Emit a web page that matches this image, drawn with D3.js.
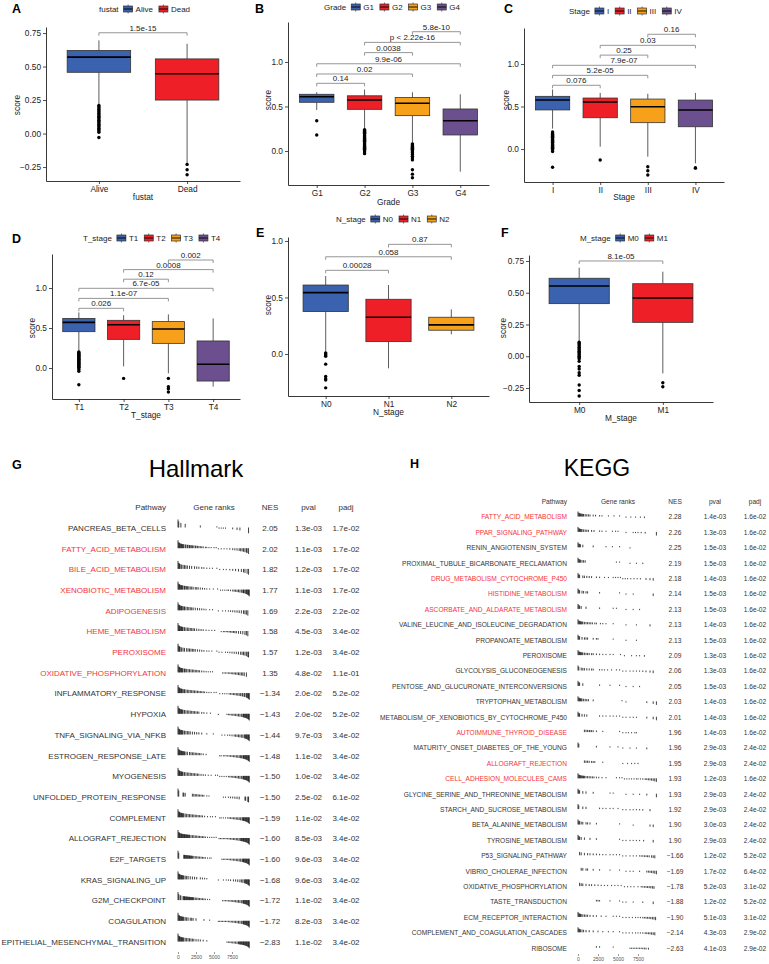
<!DOCTYPE html>
<html><head><meta charset="utf-8">
<script src="https://cdn.jsdelivr.net/npm/d3@7"></script>
<style>
body{margin:0;background:#fff}
svg{display:block}
text{font-family:"Liberation Sans",Arial,Helvetica,sans-serif}
</style>
</head><body>
<svg id="c" width="769" height="964"></svg>
<script>
// ---------------- DATA ----------------
const palette = ["#3A62AE","#EE1F26","#F7A11A","#6B4F8F"];

// boxplot stats: [lowerWhisker, q1, median, q3, upperWhisker]
const fustatCats = ["Alive","Dead"];
const fustatBox = [[0.22,0.457,0.57,0.62,0.695],[-0.22,0.25,0.446,0.557,0.67]];
const fustatOut = [[0.21,0.2,0.19,0.18,0.17,0.16,0.15,0.14,0.13,0.12,0.11,0.1,0.09,0.08,0.07,0.06,0.05,0.04,0.03,0.02,0.01,-0.03],[-0.23,-0.27,-0.307]];
const fustatTests = [[0,1,0.752,"1.5e-15"]];

const gradeCats = ["G1","G2","G3","G4"];
const gradeBox = [[0.46,0.547,0.61,0.637,0.66],[0.255,0.468,0.573,0.62,0.69],[0.086,0.397,0.536,0.6,0.66],[-0.232,0.18,0.34,0.472,0.637]];
const gradeOut = [[0.34,0.18],[0.24,0.23,0.22,0.21,0.2,0.19,0.18,0.17,0.16,0.15,0.14,0.13,0.12,0.11,0.1,0.09,0.08,0.07,0.06,0.05,0.04,0.03,0.02,0.01,0,-0.01,-0.03],[0.08,0.07,0.06,0.05,0.04,0.03,0.02,0.01,0,-0.01,-0.02,-0.04,-0.06,-0.08,-0.1,-0.21,-0.26,-0.3],[]];
const gradeTests = [[0,1,0.76,"0.14"],[0,2,0.865,"0.02"],[0,3,0.98,"9.9e-06"],[1,2,1.105,"0.0038"],[1,3,1.22,"p < 2.22e-16"],[2,3,1.34,"5.8e-10"]];

const stageCats = ["I","II","III","IV"];
const stageBox = [[0.24,0.46,0.576,0.62,0.70],[0.027,0.368,0.553,0.6,0.66],[-0.09,0.31,0.498,0.588,0.65],[-0.168,0.262,0.459,0.576,0.66]];
const stageOut = [[0.2,0.19,0.18,0.17,0.16,0.15,0.14,0.13,0.12,0.11,0.1,0.09,0.08,0.07,0.06,0.05,0.04,0.03,0.02,0.01,0,-0.01,-0.03,-0.215],[-0.13],[-0.208,-0.255,-0.306],[-0.22,-0.225]];
const stageTests = [[0,1,0.75,"0.076"],[0,2,0.867,"5.2e-05"],[0,3,0.985,"7.9e-07"],[1,2,1.105,"0.25"],[1,3,1.22,"0.03"],[2,3,1.35,"0.16"]];

const tCats = ["T1","T2","T3","T4"];
const tBox = [[0.204,0.454,0.57,0.62,0.695],[0.02,0.358,0.54,0.596,0.66],[-0.067,0.308,0.488,0.58,0.67],[-0.233,-0.163,0.046,0.338,0.62]];
const tOut = [[0.2,0.19,0.18,0.17,0.16,0.15,0.14,0.13,0.12,0.11,0.1,0.09,0.08,0.07,0.06,0.05,0.04,0.03,0.02,0.01,0,-0.02,-0.04,-0.21],[-0.13],[-0.13,-0.233,-0.26,-0.3],[]];
const tTests = [[0,1,0.746,"0.026"],[0,2,0.87,"1.1e-07"],[0,3,0.996,"6.7e-05"],[1,2,1.11,"0.12"],[1,3,1.23,"0.0008"],[2,3,1.35,"0.002"]];

const nCats = ["N0","N1","N2"];
const nBox = [[0.02,0.375,0.543,0.61,0.69],[-0.127,0.109,0.325,0.484,0.61],[0.174,0.21,0.257,0.325,0.395]];
const nOut = [[0.01,0,-0.01,-0.02,-0.09,-0.2,-0.22,-0.23,-0.3],[],[]];
const nTests = [[0,1,0.74,"0.00028"],[0,2,0.86,"0.058"],[1,2,0.97,"0.87"]];

const mCats = ["M0","M1"];
const mBox = [[0.115,0.414,0.553,0.614,0.697],[-0.135,0.267,0.459,0.571,0.666]];
const mOut = [[0.11,0.1,0.09,0.08,0.07,0.06,0.05,0.04,0.03,0.02,0.01,0,-0.01,-0.02,-0.04,-0.08,-0.1,-0.13,-0.15,-0.226,-0.27,-0.313],[-0.208,-0.24]];
const mTests = [[0,1,0.75,"8.1e-05"]];

// GSEA tables
const hallmarkPathways = ["PANCREAS_BETA_CELLS","FATTY_ACID_METABOLISM","BILE_ACID_METABOLISM","XENOBIOTIC_METABOLISM","ADIPOGENESIS","HEME_METABOLISM","PEROXISOME","OXIDATIVE_PHOSPHORYLATION","INFLAMMATORY_RESPONSE","HYPOXIA","TNFA_SIGNALING_VIA_NFKB","ESTROGEN_RESPONSE_LATE","MYOGENESIS","UNFOLDED_PROTEIN_RESPONSE","COMPLEMENT","ALLOGRAFT_REJECTION","E2F_TARGETS","KRAS_SIGNALING_UP","G2M_CHECKPOINT","COAGULATION","EPITHELIAL_MESENCHYMAL_TRANSITION"];
const hallmarkNES = [2.05,2.02,1.82,1.77,1.69,1.58,1.57,1.35,-1.34,-1.43,-1.44,-1.48,-1.50,-1.50,-1.59,-1.60,-1.60,-1.68,-1.72,-1.72,-2.83];
const hallmarkPval = [1.3e-3,1.1e-3,1.2e-3,1.1e-3,2.2e-3,4.5e-3,1.2e-3,4.8e-2,2.0e-2,2.0e-2,9.7e-3,1.1e-2,1.0e-2,2.5e-2,1.1e-2,8.5e-3,9.6e-3,9.6e-3,1.1e-2,8.2e-3,1.1e-2];
const hallmarkPadj = [1.7e-2,1.7e-2,1.7e-2,1.7e-2,2.2e-2,3.4e-2,3.4e-2,1.1e-1,5.2e-2,5.2e-2,3.4e-2,3.4e-2,3.4e-2,6.1e-2,3.4e-2,3.4e-2,3.4e-2,3.4e-2,3.4e-2,3.4e-2,3.4e-2];
const hallmarkHighlighted = ["FATTY_ACID_METABOLISM","BILE_ACID_METABOLISM","XENOBIOTIC_METABOLISM","ADIPOGENESIS","HEME_METABOLISM","PEROXISOME","OXIDATIVE_PHOSPHORYLATION"];
// gene-rank positions of pathway genes (in hundreds of ranks)
const hallmarkRanks = [
[0,1,4,10,31,54,57,60,63,66,76,82,86,98],
[0,1,2,3,4,5,6,7,8,10,11,13,14,16,17,19,20,22,24,25,27,29,31,33,35,38,40,43,46,50,53,56,60,64,68,72,76,79,82,85,87,89,91,93,95,96,98],
[0,1,2,3,5,7,9,11,13,16,19,23,26,29,33,36,40,44,48,54,58,63,67,72,76,80,84,88,91,93,96,98],
[0,1,2,3,4,5,6,7,9,10,12,13,15,17,19,21,24,26,28,31,34,37,40,44,49,55,59,62,65,68,70,73,76,78,80,82,84,86,88,90,91,92,94,95,96,97,98,99],
[0,1,2,3,4,5,6,8,9,11,13,15,17,19,21,24,27,30,33,36,39,44,48,56,62,66,70,73,76,79,82,85,88,91,93,95,97],
[0,1,2,3,4,5,6,7,9,11,13,15,17,19,21,23,26,29,32,35,39,43,47,51,60,63,65,67,69,71,73,75,77,79,81,84,87,90,93,95,97],
[0,1,2,3,5,7,9,12,14,16,18,20,22,24,27,30,33,36,40,43,47,54,57,61,66,69,72,75,78,81,84,87,89,91,93,95,97,98],
[0,1,2,3,4,5,6,7,9,10,12,14,16,18,20,22,24,26,28,30,33,36,39,42,45,48,62,64,66,68,70,72,74,76,78,80,82,84,86,88,90,92,95],
[0,1,2,3,4,5,6,8,9,11,13,15,17,19,21,23,25,27,29,31,33,35,37,40,43,46,50,53,58,62,65,68,71,73,75,77,79,81,83,85,87,89,90,92,93,95,96,97,98,99],
[0,1,2,3,4,5,6,7,9,11,13,15,17,19,21,23,25,27,29,33,36,40,45,56,68,70,72,74,76,78,80,82,84,86,88,90,91,92,93,94,95,96,97,98,99],
[0,1,2,3,4,5,6,7,9,11,13,15,17,20,23,26,29,33,40,49,61,65,69,72,75,78,80,82,84,86,88,90,92,93,94,95,96,97,98,99],
[0,1,2,3,4,5,6,7,8,9,11,13,16,18,20,22,24,26,28,30,32,35,39,58,60,63,65,67,69,71,73,75,77,79,81,83,85,87,88,90,91,92,93,94,95,96,97,98,99],
[0,1,2,3,4,5,6,7,9,11,13,15,17,19,21,23,25,27,29,32,35,38,42,46,52,55,58,61,64,67,70,72,74,76,78,80,82,84,86,88,90,91,92,93,94,95,96,97,98,99],
[0,1,7,8,10,20,22,24,26,28,30,32,34,36,40,43,63,66,70,73,76,79,82,85,93,94,97,98],
[0,1,2,3,4,5,6,7,8,10,12,14,16,18,20,22,24,26,28,30,32,34,37,41,45,48,52,58,60,63,66,69,71,73,75,77,79,81,83,85,87,89,90,91,92,93,94,95,96,97,98,99],
[0,1,2,3,4,5,6,7,8,9,10,11,12,13,14,15,16,18,20,22,24,26,28,30,32,34,36,38,41,44,47,50,53,57,59,61,63,65,67,69,71,73,75,77,79,81,83,85,87,88,89,90,91,92,93,94,95,96,97,98,99],
[0,1,8,9,10,11,12,13,14,15,16,17,18,19,20,22,24,26,28,30,32,34,36,38,41,44,46,61,63,65,67,69,71,73,75,77,79,81,83,85,87,89,90,91,92,93,94,95,96,97,98,99],
[0,1,2,3,4,5,6,7,8,10,12,14,17,20,23,26,31,34,37,40,56,63,67,70,73,77,80,83,86,88,90,92,93,94,95,96,97,98,99],
[0,1,3,4,7,8,9,10,11,12,13,14,15,16,17,18,19,20,21,22,24,26,28,30,32,34,36,38,41,44,62,64,66,68,70,72,74,76,78,80,82,84,86,88,90,91,92,93,94,95,96,97,98,99],
[0,1,2,3,4,5,6,7,8,10,12,14,17,19,21,25,36,44,56,58,60,62,64,66,68,70,72,74,76,78,80,82,84,86,88,90,91,92,93,94,95,96,97,98,99],
[0,1,2,3,4,5,6,7,8,10,12,14,16,18,20,22,25,28,31,35,40,68,70,72,74,76,78,80,82,84,85,86,87,88,89,90,91,92,93,94,95,96,97,98,99]
];

const keggPathways = ["FATTY_ACID_METABOLISM","PPAR_SIGNALING_PATHWAY","RENIN_ANGIOTENSIN_SYSTEM","PROXIMAL_TUBULE_BICARBONATE_RECLAMATION","DRUG_METABOLISM_CYTOCHROME_P450","HISTIDINE_METABOLISM","ASCORBATE_AND_ALDARATE_METABOLISM","VALINE_LEUCINE_AND_ISOLEUCINE_DEGRADATION","PROPANOATE_METABOLISM","PEROXISOME","GLYCOLYSIS_GLUCONEOGENESIS","PENTOSE_AND_GLUCURONATE_INTERCONVERSIONS","TRYPTOPHAN_METABOLISM","METABOLISM_OF_XENOBIOTICS_BY_CYTOCHROME_P450","AUTOIMMUNE_THYROID_DISEASE","MATURITY_ONSET_DIABETES_OF_THE_YOUNG","ALLOGRAFT_REJECTION","CELL_ADHESION_MOLECULES_CAMS","GLYCINE_SERINE_AND_THREONINE_METABOLISM","STARCH_AND_SUCROSE_METABOLISM","BETA_ALANINE_METABOLISM","TYROSINE_METABOLISM","P53_SIGNALING_PATHWAY","VIBRIO_CHOLERAE_INFECTION","OXIDATIVE_PHOSPHORYLATION","TASTE_TRANSDUCTION","ECM_RECEPTOR_INTERACTION","COMPLEMENT_AND_COAGULATION_CASCADES","RIBOSOME"];
const keggNES = [2.28,2.26,2.25,2.19,2.18,2.14,2.13,2.13,2.13,2.09,2.06,2.05,2.03,2.01,1.96,1.96,1.95,1.93,1.93,1.92,1.90,1.90,-1.66,-1.69,-1.78,-1.88,-1.90,-2.14,-2.63];
const keggPval = [1.4e-3,1.3e-3,1.5e-3,1.5e-3,1.4e-3,1.5e-3,1.5e-3,1.4e-3,1.5e-3,1.3e-3,1.3e-3,1.5e-3,1.4e-3,1.4e-3,1.4e-3,2.9e-3,2.9e-3,1.2e-3,2.9e-3,2.9e-3,3.0e-3,2.9e-3,1.2e-2,1.7e-2,5.2e-3,1.2e-2,5.1e-3,4.3e-3,4.1e-3];
const keggPadj = [1.6e-2,1.6e-2,1.6e-2,1.6e-2,1.6e-2,1.6e-2,1.6e-2,1.6e-2,1.6e-2,1.6e-2,1.6e-2,1.6e-2,1.6e-2,1.6e-2,1.6e-2,2.4e-2,2.4e-2,1.6e-2,2.4e-2,2.4e-2,2.4e-2,2.4e-2,5.2e-2,6.4e-2,3.1e-2,5.2e-2,3.1e-2,2.9e-2,2.9e-2];
const keggHighlighted = ["FATTY_ACID_METABOLISM","PPAR_SIGNALING_PATHWAY","DRUG_METABOLISM_CYTOCHROME_P450","HISTIDINE_METABOLISM","ASCORBATE_AND_ALDARATE_METABOLISM","AUTOIMMUNE_THYROID_DISEASE","ALLOGRAFT_REJECTION","CELL_ADHESION_MOLECULES_CAMS"];
const keggRanks = [
[0,1,2,3,4,5,6,7,9,11,13,15,19,22,27,30,38,45,52,60,66,72,78,83],
[0,1,2,3,4,5,7,9,11,13,17,20,27,30,35,43,47,50,60,69,72,75,79,84,98],
[0,1,2,3,6,19,35,43,52,65],
[0,1,2,3,5,7,9,48,52,65,73,81],
[0,1,2,6,8,11,14,17,23,27,33,38,44,47,50,53,56,59,62,66,70,74,78,85,90,94],
[0,1,2,5,7,10,12,27,52,60,69,94],
[0,1,2,4,10,27,44,48,60,69,77],
[0,1,2,3,4,5,6,8,10,12,14,16,18,21,23,28,31,35,44,60,73,90],
[0,1,2,5,8,10,12,19,23,25,44,60,73],
[0,1,2,3,4,5,6,8,10,12,14,17,19,23,27,31,35,40,44,53,58,67,73,77,83],
[0,1,4,6,8,11,14,17,19,27,30,33,37,42,48,52,56,60,65,69,73,77,81,85,90,94],
[0,1,2,6,27,40,52,60,69,77],
[0,1,2,3,4,5,7,9,11,13,19,55,60,86,94,98],
[0,1,2,5,8,11,27,31,35,40,44,48,52,56,60,65,69,73,86,94,98],
[8,10,12,14,15,17,19,23,31,52,56,60,63,67,71,73],
[0,1,23,40,50,56,65,73,86],
[8,10,12,14,17,19,21,31,56,62,67,71,75],
[0,1,2,3,4,5,6,7,8,10,12,14,16,18,20,23,26,30,35,48,52,55,58,61,64,67,70,73,75,78,81,84,86,88,90,92,94,96,98],
[0,1,2,6,10,19,40,44,60,69,77,86,98],
[0,1,6,10,27,31,35,40,44,50,56,60,65,69,73,77,81,90],
[0,1,2,4,6,10,12,15,23,52,69,90,94],
[0,1,2,4,8,15,23,52,56,60,65,69,73,77,82,94],
[2,4,8,12,15,19,23,27,31,35,40,44,48,52,56,60,65,69,73,77,79,81,83,85,87,89,92,94,96],
[4,6,10,12,19,27,40,52,60,65,69,77,86,88,90,92,94,96,98],
[2,4,6,10,14,17,21,25,29,33,37,42,46,50,54,58,62,66,70,75,79,81,83,85,87,89,91,93,95],
[23,25,27,40,52,56,60,69,81,94],
[0,1,2,3,4,6,8,10,12,15,19,23,29,35,44,48,52,56,60,64,68,72,75,78,81,83,85,87,89,91,93,95,97],
[0,1,2,3,5,7,10,14,19,25,31,38,44,52,56,60,64,68,72,75,78,81,84,86,88,90,92,94,96],
[23,27,44,65,67,69,71,73,75,77,79,81,83,85,88]
];
// ranked-list statistic profile (normalised)
const rankStatPos = [0,100,300,600,1000,2000,3500,5000,6500,8000,9000,9500,9800,9950,10000];
const rankStatVal = [1,0.75,0.6,0.52,0.46,0.36,0.22,0.06,-0.12,-0.28,-0.42,-0.55,-0.72,-0.9,-1];
const geneRankTicks = [0,2500,5000,7500];

// ---------------- DRAWING ----------------
const svg = d3.select("#c");
const TXT = "#222";

function boxPanel(p){
  const g = svg.append("g");
  const x = d3.scalePoint().domain(p.cats).range([p.x0,p.x1]).padding(0.6);
  const y = d3.scaleLinear().domain(p.domain).range([p.yb,p.yt]);
  const bw = x.step()*0.72;
  const ya = g.append("g").attr("transform",`translate(${p.x0},0)`)
    .call(d3.axisLeft(y).tickValues(p.ticks).tickFormat(d3.format(p.fmt)).tickSize(3).tickSizeOuter(0).tickPadding(2));
  const xa = g.append("g").attr("transform",`translate(0,${p.yb})`)
    .call(d3.axisBottom(x).tickSize(3).tickSizeOuter(0).tickPadding(2));
  [ya,xa].forEach(a=>{
    a.select(".domain").attr("stroke","#222").attr("stroke-width",0.9);
    a.selectAll(".tick line").attr("stroke","#222").attr("stroke-width",0.8);
    a.selectAll(".tick text").attr("fill",TXT).style("font-size","8.3px").style("font-family",'"Liberation Sans",Arial,sans-serif');
  });
  p.cats.forEach((c,i)=>{
    const [lo,q1,md,q3,hi] = p.box[i];
    const cx = x(c);
    g.append("line").attr("x1",cx).attr("x2",cx).attr("y1",y(hi)).attr("y2",y(q3)).attr("stroke","#333").attr("stroke-width",0.8);
    g.append("line").attr("x1",cx).attr("x2",cx).attr("y1",y(q1)).attr("y2",y(lo)).attr("stroke","#333").attr("stroke-width",0.8);
    g.append("rect").attr("x",cx-bw/2).attr("y",y(q3)).attr("width",bw).attr("height",y(q1)-y(q3))
      .attr("fill",palette[i]).attr("stroke","#333").attr("stroke-width",0.8);
    g.append("line").attr("x1",cx-bw/2).attr("x2",cx+bw/2).attr("y1",y(md)).attr("y2",y(md)).attr("stroke","#000").attr("stroke-width",1.6);
    p.out[i].forEach(v=>{
      g.append("circle").attr("cx",cx).attr("cy",y(v)).attr("r",1.7).attr("fill","#000");
    });
  });
  p.tests.forEach(([a,b,v,lab])=>{
    const xa_ = x(p.cats[a]), xb = x(p.cats[b]), yy = y(v);
    g.append("path").attr("d",`M${xa_},${yy+3}V${yy}H${xb}V${yy+3}`).attr("fill","none").attr("stroke","#8a8a8a").attr("stroke-width",0.9);
    g.append("text").attr("x",(xa_+xb)/2).attr("y",yy-2).attr("text-anchor","middle").attr("fill",TXT).style("font-size","8px").text(lab);
  });
  g.append("text").attr("x",(p.x0+p.x1)/2).attr("y",p.xty).attr("text-anchor","middle").attr("fill",TXT).style("font-size","8.3px").text(p.xtitle);
  g.append("text").attr("transform",`translate(${p.ytx},${p.yty}) rotate(-90)`).attr("text-anchor","middle").attr("fill",TXT).style("font-size","8.3px").text("score");
  g.append("text").attr("x",p.lx).attr("y",p.ly).attr("fill","#000").style("font-size","12.5px").style("font-weight","bold").text(p.label);
  const lg = g.append("g");
  let cx = p.legX;
  const t = lg.append("text").attr("x",cx).attr("y",p.legY).attr("dy","0.35em").attr("fill",TXT).style("font-size","8px").text(p.xtitle);
  cx += t.node().getComputedTextLength()+5;
  p.cats.forEach((c,i)=>{
    const ky = p.legY;
    lg.append("line").attr("x1",cx+4.5).attr("x2",cx+4.5).attr("y1",ky-4.5).attr("y2",ky+4.5).attr("stroke","#333").attr("stroke-width",0.7);
    lg.append("rect").attr("x",cx).attr("y",ky-3).attr("width",9).attr("height",6).attr("fill",palette[i]).attr("stroke","#333").attr("stroke-width",0.7);
    lg.append("line").attr("x1",cx).attr("x2",cx+9).attr("y1",ky).attr("y2",ky).attr("stroke","#000").attr("stroke-width",0.9);
    cx += 12;
    const tt = lg.append("text").attr("x",cx).attr("y",ky).attr("dy","0.35em").attr("fill",TXT).style("font-size","8px").text(c);
    cx += tt.node().getComputedTextLength()+6;
  });
}

boxPanel({cats:fustatCats,box:fustatBox,out:fustatOut,tests:fustatTests,x0:46,x1:240,yt:27,yb:181,domain:[-0.354,0.795],ticks:[-0.25,0,0.25,0.5,0.75],fmt:".2f",xtitle:"fustat",xty:200,ytx:20,yty:105,label:"A",lx:12,ly:13,legX:99,legY:9});
boxPanel({cats:gradeCats,box:gradeBox,out:gradeOut,tests:gradeTests,x0:288,x1:489,yt:22,yb:185,domain:[-0.382,1.449],ticks:[0,0.5,1],fmt:".1f",xtitle:"Grade",xty:205,ytx:271,yty:100,label:"B",lx:255,ly:13,legX:324,legY:7});
boxPanel({cats:stageCats,box:stageBox,out:stageOut,tests:stageTests,x0:524,x1:724,yt:28,yb:182,domain:[-0.388,1.424],ticks:[0,0.5,1],fmt:".1f",xtitle:"Stage",xty:200,ytx:509,yty:100,label:"C",lx:504,ly:13,legX:569,legY:11});
boxPanel({cats:tCats,box:tBox,out:tOut,tests:tTests,x0:52,x1:240,yt:254,yb:399,domain:[-0.3875,1.425],ticks:[0,0.5,1],fmt:".1f",xtitle:"T_stage",xty:418,ytx:35,yty:328,label:"D",lx:12,ly:243,legX:83,legY:238});
boxPanel({cats:nCats,box:nBox,out:nOut,tests:nTests,x0:288,x1:489,yt:237,yb:396,domain:[-0.372,1.035],ticks:[0,0.5,1],fmt:".1f",xtitle:"N_stage",xty:415,ytx:271,yty:305,label:"E",lx:256,ly:237,legX:336,legY:219});
boxPanel({cats:mCats,box:mBox,out:mOut,tests:mTests,x0:529,x1:713,yt:255,yb:402,domain:[-0.36,0.797],ticks:[-0.25,0,0.25,0.5,0.75],fmt:".2f",xtitle:"M_stage",xty:421,ytx:506,yty:328,label:"F",lx:501,ly:237,legX:580,legY:238});

function fmtP(v){
  const e = Math.floor(Math.log10(v)+1e-9);
  const m = v/Math.pow(10,e);
  return m.toFixed(1)+"e"+(e<0?"-":"+")+String(Math.abs(e)).padStart(2,"0");
}
const fmtNES = d3.format(".2f");

function gseaTable(t){
  const g = svg.append("g");
  const rx = d3.scaleLinear().domain([0,10000]).range([t.gr0,t.gr1]);
  const stat = d3.scaleLinear().domain(rankStatPos).range(rankStatVal).clamp(true);
  const fs = t.fs+"px";
  g.append("text").attr("x",t.titleX).attr("y",t.titleY).attr("text-anchor","middle").attr("fill","#000").style("font-size",t.titleFs+"px").text(t.title);
  g.append("text").attr("x",t.labX).attr("y",t.titleY-8).attr("fill","#000").style("font-size","12.5px").style("font-weight","bold").text(t.label);
  const hdr = [["Pathway",t.nameX,"end"],["Gene ranks",(t.gr0+t.gr1)/2,"middle"],["NES",t.nesX,"middle"],["pval",t.pvalX,"middle"],["padj",t.padjX,"middle"]];
  hdr.forEach(([s,xx,an])=>g.append("text").attr("x",xx).attr("y",t.hy).attr("dy","0.35em").attr("text-anchor",an).attr("fill","#333").style("font-size",fs).text(s));
  t.names.forEach((n,i)=>{
    const yy = t.y0 + i*t.dy;
    g.append("text").attr("x",t.nameX).attr("y",yy).attr("dy","0.35em").attr("text-anchor","end")
      .attr("fill",t.red.includes(n)?"#F5333A":"#333").style("font-size",fs).text(n);
    const base = yy - 0.5;
    t.ranks[i].forEach(r=>{
      const v = stat(r*100);
      const h = Math.sign(v)*Math.max(1.2,Math.abs(v)*t.amp);
      g.append("line").attr("x1",rx(r*100)).attr("x2",rx(r*100)).attr("y1",base).attr("y2",base-h)
        .attr("stroke","#000").attr("stroke-width",0.75);
    });
    g.append("text").attr("x",t.nesX).attr("y",yy).attr("dy","0.35em").attr("text-anchor","middle").attr("fill","#333").style("font-size",fs).text(fmtNES(t.nes[i]));
    g.append("text").attr("x",t.pvalX).attr("y",yy).attr("dy","0.35em").attr("text-anchor","middle").attr("fill","#333").style("font-size",fs).text(fmtP(t.pval[i]));
    g.append("text").attr("x",t.padjX).attr("y",yy).attr("dy","0.35em").attr("text-anchor","middle").attr("fill","#333").style("font-size",fs).text(fmtP(t.padj[i]));
  });
  const ax = g.append("g").attr("transform",`translate(0,${t.axY})`)
    .call(d3.axisBottom(rx).tickValues(geneRankTicks).tickFormat(d3.format("d")).tickSize(2).tickPadding(1.5));
  ax.select(".domain").remove();
  ax.selectAll(".tick line").attr("stroke","#555").attr("stroke-width",0.6);
  ax.selectAll(".tick text").attr("fill","#555").style("font-size","5px");
}

gseaTable({title:"Hallmark",titleX:196,titleY:477,titleFs:24,label:"G",labX:12,names:hallmarkPathways,nes:hallmarkNES,pval:hallmarkPval,padj:hallmarkPadj,red:hallmarkHighlighted,ranks:hallmarkRanks,
  nameX:166,gr0:178,gr1:250,nesX:270,pvalX:308.5,padjX:346,hy:507,y0:528,dy:20.7,fs:8,amp:8,axY:952});
gseaTable({title:"KEGG",titleX:597,titleY:476,titleFs:23,label:"H",labX:410,names:keggPathways,nes:keggNES,pval:keggPval,padj:keggPadj,red:keggHighlighted,ranks:keggRanks,
  nameX:567,gr0:578,gr1:658,nesX:675,pvalX:715,padjX:755,hy:501.7,y0:517,dy:15.4,fs:6.6,amp:5,axY:954});
</script>
</body></html>
